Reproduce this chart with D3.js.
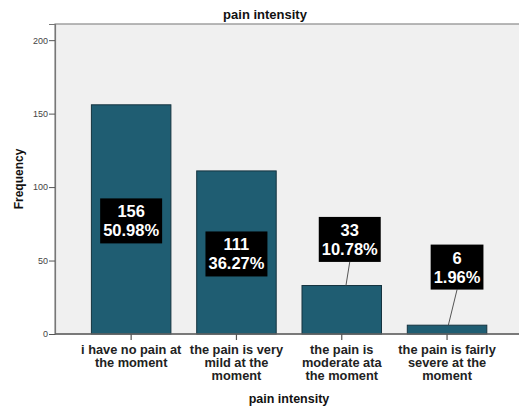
<!DOCTYPE html>
<html>
<head>
<meta charset="utf-8">
<script src="https://cdn.jsdelivr.net/npm/d3@7"></script>
<style>
  html, body { margin: 0; padding: 0; background: #fff; }
  svg { display: block; font-family: "Liberation Sans", Arial, sans-serif; }
</style>
</head>
<body>
<svg id="chart" width="519" height="409"></svg>
<script>
// Pain intensity frequencies (line breaks mark the label wrapping)
const categories = [
  "i have no pain at\nthe moment",
  "the pain is very\nmild at the\nmoment",
  "the pain is\nmoderate ata\nthe moment",
  "the pain is fairly\nsevere at the\nmoment"
];
const counts = [156, 111, 33, 6];
const percents = ["50.98%", "36.27%", "10.78%", "1.96%"];
const yTicks = [0, 50, 100, 150, 200];

const W = 519, H = 409;
const plot = { left: 55, top: 24, right: 540, bottom: 334 };

const svg = d3.select("#chart");

// plot background
svg.append("rect")
  .attr("x", plot.left).attr("y", plot.top)
  .attr("width", plot.right - plot.left).attr("height", plot.bottom - plot.top)
  .attr("fill", "#f0f0f0")
  .attr("stroke", "#8a8a8a").attr("stroke-width", 1.2);

const x = d3.scaleBand()
  .domain(categories)
  .range([78.5, 499.7])
  .paddingInner(0.245)
  .paddingOuter(0.1225);

const y = d3.scaleLinear().domain([0, 211]).range([plot.bottom, plot.top]);

// y axis
const yAxis = svg.append("g")
  .attr("transform", `translate(${plot.left},0)`)
  .call(d3.axisLeft(y).tickValues(yTicks).tickSize(6).tickPadding(1).tickFormat(d3.format("d")));
yAxis.select(".domain").attr("stroke", "#777").attr("stroke-width", 1.2);
yAxis.selectAll(".tick line").attr("stroke", "#555");
yAxis.selectAll(".tick text")
  .attr("font-size", 9).attr("fill", "#444")
  .attr("font-family", "Liberation Sans, Arial, sans-serif");

// bars
svg.append("g").selectAll("rect")
  .data(counts)
  .join("rect")
  .attr("x", (d, i) => x(categories[i]))
  .attr("y", d => y(d))
  .attr("width", x.bandwidth())
  .attr("height", d => y(0) - y(d))
  .attr("fill", "#1f5d72")
  .attr("stroke", "#15333f")
  .attr("stroke-width", 1);

// x axis
const xAxis = svg.append("g")
  .attr("transform", `translate(0,${plot.bottom})`)
  .call(d3.axisBottom(x).tickSize(6).tickFormat(""));
xAxis.select(".domain").attr("d", `M${plot.left},0H${W + 5}`)
  .attr("stroke", "#666").attr("stroke-width", 1.5);
xAxis.selectAll(".tick line").attr("stroke", "#555").attr("stroke-width", 1.2);

// category labels
const catG = svg.append("g");
categories.forEach(c => {
  const t = catG.append("text")
    .attr("text-anchor", "middle")
    .attr("font-size", 12.8).attr("font-weight", "bold").attr("fill", "#222")
    .attr("transform", `translate(${x(c) + x.bandwidth() / 2},354)`);
  c.split("\n").forEach((ln, k) => t.append("tspan").attr("x", 0).attr("y", k * 13.2).text(ln));
});

// value callouts
const boxH = 45, lineGap = 19, boxFont = 16.5;
const callG = svg.append("g");
counts.forEach((v, i) => {
  const cx = x(categories[i]) + x.bandwidth() / 2;
  const top = y(v);
  const inside = (y(0) - top) > 80;
  let bx, by;
  if (inside) {
    bx = cx;
    by = (top + y(0)) / 2 + 1.5;
  } else {
    const dx = i === 2 ? 8 : 10;
    const lift = i === 2 ? 23.6 : 35.6;
    bx = cx + dx;
    by = top - lift - boxH / 2;
    callG.append("line")
      .attr("x1", bx).attr("y1", by + boxH / 2)
      .attr("x2", cx + (i === 2 ? 4.2 : 1.3)).attr("y2", top)
      .attr("stroke", "#555").attr("stroke-width", 1);
  }
  const g = callG.append("g");
  const rect = g.append("rect").attr("fill", "#000");
  const t1 = g.append("text").text(String(v));
  const t2 = g.append("text").text(percents[i]);
  [t1, t2].forEach((t, k) => t
    .attr("x", bx).attr("y", by - lineGap / 2 + k * lineGap + 6)
    .attr("text-anchor", "middle")
    .attr("font-size", boxFont).attr("font-weight", "bold").attr("fill", "#fff"));
  const w = Math.max(t1.node().getComputedTextLength(), t2.node().getComputedTextLength()) + 6;
  rect.attr("x", bx - w / 2).attr("y", by - boxH / 2).attr("width", w).attr("height", boxH);
});

// titles
svg.append("text")
  .attr("x", 265).attr("y", 18.5).attr("text-anchor", "middle")
  .attr("font-size", 13).attr("font-weight", "bold").attr("fill", "#111")
  .text("pain intensity");

svg.append("text")
  .attr("x", (plot.left + W) / 2 + 2).attr("y", 403).attr("text-anchor", "middle")
  .attr("font-size", 12.5).attr("font-weight", "bold").attr("fill", "#111")
  .text("pain intensity");

svg.append("text")
  .attr("transform", `translate(23,${(plot.top + plot.bottom) / 2}) rotate(-90)`)
  .attr("text-anchor", "middle")
  .attr("font-size", 12).attr("font-weight", "bold").attr("fill", "#111")
  .text("Frequency");
</script>
</body>
</html>
